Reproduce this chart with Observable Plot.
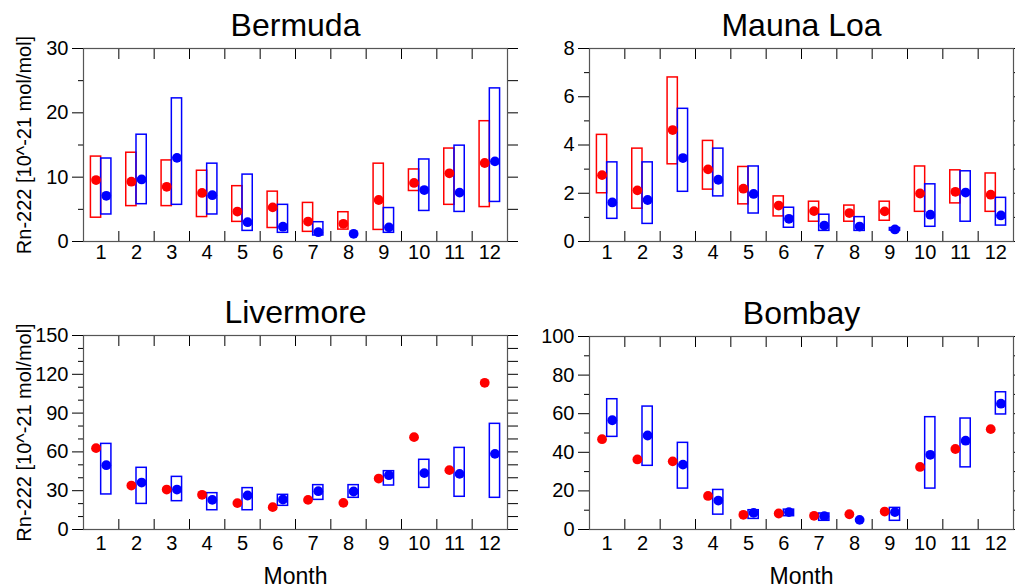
<!DOCTYPE html>
<html>
<head>
<meta charset="utf-8">
<script src="https://cdn.jsdelivr.net/npm/d3@7"></script>
<script src="https://cdn.jsdelivr.net/npm/@observablehq/plot@0.6"></script>
<style>
  body { margin: 0; background: #fff; }
  #wrap { position: relative; width: 1015px; height: 587px; background: #fff; overflow: hidden; }
  #wrap svg { position: absolute; overflow: visible; }
</style>
</head>
<body>
<div id="wrap"></div>
<script>
const months = [1, 2, 3, 4, 5, 6, 7, 8, 9, 10, 11, 12];
const monthBounds = [0.5, 1.5, 2.5, 3.5, 4.5, 5.5, 6.5, 7.5, 8.5, 9.5, 10.5, 11.5, 12.5];
const yLabel = "Rn-222 [10^-21 mol/mol]";
const xLabel = "Month";

// Bermuda
const bermudaRedMean  = [9.55, 9.3, 8.5, 7.55, 4.65, 5.3, 3.1, 2.75, 6.45, 9.1, 10.6, 12.2];
const bermudaRedLo    = [3.7, 5.5, 5.5, 3.8, 3.05, 2.1, 1.5, 1.85, 1.8, 7.85, 5.7, 5.35];
const bermudaRedHi    = [13.2, 13.8, 12.6, 11.0, 8.6, 7.75, 6.0, 4.55, 12.1, 11.2, 14.45, 18.7];
const bermudaBlueMean = [7.1, 9.65, 13.0, 7.2, 3.0, 2.3, 1.45, 1.2, 2.2, 8.0, 7.6, 12.45];
const bermudaBlueLo   = [4.2, 5.8, 5.7, 4.2, 1.65, 1.35, 0.93, null, 1.35, 4.75, 4.6, 6.15];
const bermudaBlueHi   = [12.9, 16.6, 22.25, 12.1, 10.4, 5.7, 3.0, null, 5.2, 12.75, 14.9, 23.8];

// Mauna Loa
const maunaRedMean  = [2.75, 2.12, 4.62, 2.99, 2.19, 1.49, 1.26, 1.18, 1.25, 1.99, 2.06, 1.94];
const maunaRedLo    = [2.0, 1.36, 3.2, 2.15, 1.54, 1.04, 0.82, 0.82, 0.86, 1.23, 1.58, 1.23];
const maunaRedHi    = [4.42, 3.85, 6.8, 4.17, 3.09, 1.87, 1.65, 1.49, 1.65, 3.11, 2.95, 2.82];
const maunaBlueMean = [1.62, 1.72, 3.46, 2.56, 1.97, 0.94, 0.66, 0.62, 0.5, 1.11, 2.03, 1.08];
const maunaBlueLo   = [0.94, 0.73, 2.06, 1.87, 1.16, 0.57, 0.44, 0.44, 0.45, 0.61, 0.82, 0.66];
const maunaBlueHi   = [3.28, 3.28, 5.5, 3.85, 3.11, 1.4, 1.11, 1.01, 0.56, 2.37, 2.91, 1.81];

// Livermore
const liverRedMean  = [62.9, 34.0, 30.9, 26.8, 20.4, 17.3, 22.9, 20.6, 39.4, 71.4, 45.9, 113.4];
const liverRedLo    = [null, null, null, null, null, null, null, null, null, null, null, null];
const liverRedHi    = [null, null, null, null, null, null, null, null, null, null, null, null];
const liverBlueMean = [49.7, 36.3, 30.9, 22.9, 26.3, 23.2, 29.6, 29.4, 42.0, 43.6, 43.0, 58.5];
const liverBlueLo   = [27.1, 19.8, 21.9, 14.9, 14.9, 18.3, 22.9, 24.5, 34.0, 32.2, 25.3, 24.5];
const liverBlueHi   = [66.2, 47.7, 40.7, 28.1, 32.0, 26.8, 34.3, 34.3, 45.1, 53.9, 63.1, 81.7];

// Bombay
const bombayRedMean  = [46.8, 36.3, 35.3, 17.4, 7.6, 8.3, 7.1, 7.9, 9.3, 32.4, 41.7, 52.0];
const bombayRedLo    = [null, null, null, null, null, null, null, null, null, null, null, null];
const bombayRedHi    = [null, null, null, null, null, null, null, null, null, null, null, null];
const bombayBlueMean = [56.6, 48.7, 33.6, 15.0, 8.6, 9.0, 6.9, 5.0, 9.0, 38.7, 46.0, 65.2];
const bombayBlueLo   = [48.0, 33.0, 21.2, 7.7, 5.5, 6.9, 4.5, null, 4.5, 21.2, 32.2, 59.6];
const bombayBlueHi   = [67.5, 63.7, 44.9, 20.5, 10.0, 10.3, 8.3, null, 11.2, 58.2, 57.5, 71.1];

// Axis ticks
const bermudaMajor = [0, 10, 20, 30], bermudaMinor = [5, 15, 25], bermudaAll = [0, 5, 10, 15, 20, 25, 30];
const maunaMajor = [0, 2, 4, 6, 8], maunaMinor = [1, 3, 5, 7], maunaAll = [0, 1, 2, 3, 4, 5, 6, 7, 8];
const liverMajor = [0, 30, 60, 90, 120, 150], liverMinor = [10, 20, 40, 50, 70, 80, 100, 110, 130, 140];
const liverAll = [0, 10, 20, 30, 40, 50, 60, 70, 80, 90, 100, 110, 120, 130, 140, 150];
const bombayMajor = [0, 20, 40, 60, 80, 100], bombayMinor = [10, 30, 50, 70, 90];
const bombayAll = [0, 10, 20, 30, 40, 50, 60, 70, 80, 90, 100];

const FONT = "'Liberation Sans', Arial, Helvetica, sans-serif";
const RED = "#ff0000", BLUE = "#0000ff";
const OFF = 0.145, HALF = 0.145;

function rows(mean, lo, hi) {
  return months.map((m, i) => ({m, mean: mean[i], lo: lo[i], hi: hi[i]}));
}

function panel(cfg) {
  const red = rows(cfg.redMean, cfg.redLo, cfg.redHi);
  const blue = rows(cfg.blueMean, cfg.blueLo, cfg.blueHi);
  const marks = [
    Plot.rect(red.filter(d => d.lo != null), {x1: d => d.m - OFF - HALF, x2: d => d.m - OFF + HALF, y1: "lo", y2: "hi", fill: "none", stroke: RED, strokeWidth: 1.5}),
    Plot.rect(blue.filter(d => d.lo != null), {x1: d => d.m + OFF - HALF, x2: d => d.m + OFF + HALF, y1: "lo", y2: "hi", fill: "none", stroke: BLUE, strokeWidth: 1.5}),
    Plot.dot(red, {x: d => d.m - OFF, y: "mean", r: 4.9, fill: RED, stroke: null}),
    Plot.dot(blue, {x: d => d.m + OFF, y: "mean", r: 4.9, fill: BLUE, stroke: null}),
    Plot.frame({stroke: "#555", strokeWidth: 1.2}),
    Plot.axisY({anchor: "left", ticks: cfg.major, tickSize: 11, tickPadding: 4, fontSize: 20, label: null, tickFormat: d => String(d), stroke: "#000"}),
    Plot.axisY({anchor: "left", ticks: cfg.minor, tickSize: 5, label: null, tickFormat: () => "", stroke: "#000"}),
    Plot.axisY({anchor: "right", ticks: cfg.all, tickSize: 10, label: null, tickFormat: () => "", stroke: "#000"}),
    Plot.axisX({anchor: "bottom", ticks: monthBounds.slice(1, -1), tickSize: 10, dy: -10, label: null, tickFormat: () => "", stroke: "#000"}),
    Plot.axisX({anchor: "top", ticks: monthBounds.slice(1, -1), tickSize: 10, dy: 10, label: null, tickFormat: () => "", stroke: "#000"}),
    Plot.axisX({anchor: "bottom", ticks: months, tickSize: 0, tickPadding: cfg.xPad, fontSize: 20, label: null, tickFormat: d => String(d)}),
    Plot.text([cfg.title], {frameAnchor: "top", dy: -13, lineAnchor: "bottom", textAnchor: "middle", fontSize: 32, fill: "#000"})
  ];
  if (cfg.ylabel) marks.push(Plot.text([yLabel], {frameAnchor: "left", dx: -59, rotate: -90, textAnchor: "middle", lineAnchor: "middle", fontSize: 20, fill: "#000"}));
  if (cfg.xlabel) marks.push(Plot.text([xLabel], {frameAnchor: "bottom", dy: 54, lineAnchor: "bottom", textAnchor: "middle", fontSize: 23, fill: "#000"}));
  const svg = Plot.plot({
    width: cfg.width, height: cfg.height,
    marginLeft: cfg.ml, marginRight: cfg.mr, marginTop: cfg.mt, marginBottom: cfg.mb,
    x: {domain: [0.5, 12.5]},
    y: {domain: cfg.ydomain},
    style: {fontFamily: FONT, color: "#000", background: "transparent", overflow: "visible"},
    marks
  });
  svg.style.left = cfg.left + "px";
  svg.style.top = cfg.top + "px";
  document.getElementById("wrap").appendChild(svg);
}

panel({title: "Bermuda", left: 0, top: 0, width: 520, height: 290, ml: 83, mr: 13, mt: 48, mb: 49,
  ydomain: [0, 30], major: bermudaMajor, minor: bermudaMinor, all: bermudaAll, xPad: 3, ylabel: true, xlabel: false,
  redMean: bermudaRedMean, redLo: bermudaRedLo, redHi: bermudaRedHi, blueMean: bermudaBlueMean, blueLo: bermudaBlueLo, blueHi: bermudaBlueHi});
panel({title: "Mauna Loa", left: 505, top: 0, width: 510, height: 290, ml: 84, mr: 2, mt: 48, mb: 49,
  ydomain: [0, 8], major: maunaMajor, minor: maunaMinor, all: maunaAll, xPad: 3, ylabel: false, xlabel: false,
  redMean: maunaRedMean, redLo: maunaRedLo, redHi: maunaRedHi, blueMean: maunaBlueMean, blueLo: maunaBlueLo, blueHi: maunaBlueHi});
panel({title: "Livermore", left: 0, top: 290, width: 520, height: 297, ml: 83, mr: 13, mt: 45, mb: 58,
  ydomain: [0, 150], major: liverMajor, minor: liverMinor, all: liverAll, xPad: 6, ylabel: true, xlabel: true,
  redMean: liverRedMean, redLo: liverRedLo, redHi: liverRedHi, blueMean: liverBlueMean, blueLo: liverBlueLo, blueHi: liverBlueHi});
panel({title: "Bombay", left: 505, top: 290, width: 510, height: 297, ml: 84, mr: 2, mt: 46, mb: 58,
  ydomain: [0, 100], major: bombayMajor, minor: bombayMinor, all: bombayAll, xPad: 6, ylabel: false, xlabel: true,
  redMean: bombayRedMean, redLo: bombayRedLo, redHi: bombayRedHi, blueMean: bombayBlueMean, blueLo: bombayBlueLo, blueHi: bombayBlueHi});
</script>
</body>
</html>
